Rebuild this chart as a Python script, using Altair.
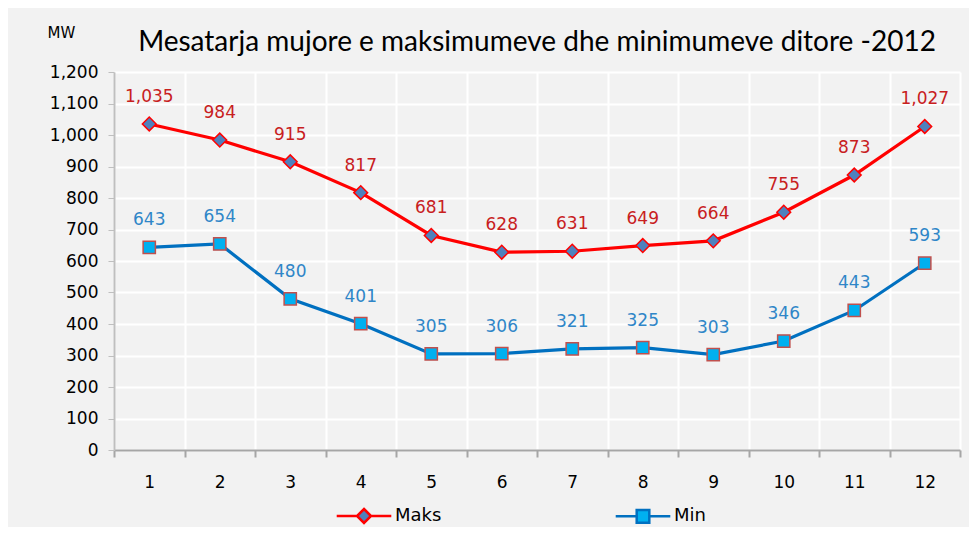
import altair as alt
import pandas as pd

months = [1, 2, 3, 4, 5, 6, 7, 8, 9, 10, 11, 12]
maks = [1035, 984, 915, 817, 681, 628, 631, 649, 664, 755, 873, 1027]
mins = [643, 654, 480, 401, 305, 306, 321, 325, 303, 346, 443, 593]
series_names = ["Maks", "Min"]
title_text = "Mesatarja mujore e maksimumeve dhe minimumeve ditore -2012"
y_unit = "MW"

rows = []
for m, v in zip(months, maks):
    rows.append({"month": m, "value": v, "series": "Maks"})
for m, v in zip(months, mins):
    rows.append({"month": m, "value": v, "series": "Min"})
df = pd.DataFrame(rows)

LINE_RED = "#ff0000"
LINE_BLUE = "#0070c0"
LABEL_RED = "#c8201e"
LABEL_BLUE = "#2f86c8"
FONT = "DejaVu Sans"

x_enc = alt.X(
    "month:O",
    scale=alt.Scale(type="band", paddingInner=0, paddingOuter=0),
    axis=alt.Axis(
        title=None,
        labelAngle=0,
        tickBand="extent",
        grid=True,
        gridColor="white",
        gridWidth=2,
        domainColor="#a6a6a6",
        domainWidth=2,
        tickColor="#a6a6a6",
        tickWidth=2,
        tickSize=7,
        labelPadding=17,
        labelFontSize=17,
        labelFont=FONT,
        labelColor="#000000",
    ),
)
y_enc = alt.Y(
    "value:Q",
    scale=alt.Scale(domain=[0, 1200], nice=False),
    axis=alt.Axis(
        title=y_unit,
        titleAngle=0,
        titleX=-53,
        titleY=-32,
        titleFont=FONT,
        titleFontSize=15,
        titleFontWeight="normal",
        titleColor="#000000",
        values=list(range(0, 1201, 100)),
        format=",d",
        grid=True,
        gridColor="white",
        gridWidth=2,
        domainColor="#bfbfbf",
        domainWidth=2,
        tickColor="#bfbfbf",
        tickSize=6,
        labelPadding=10,
        labelFontSize=17,
        labelFont=FONT,
        labelColor="#000000",
    ),
)

base = alt.Chart(df)

diamond_line = "M-3.9,0H-1M1,0H3.9M0,-1L1,0L0,1L-1,0Z"
square_line = "M-3.9,0H-0.9M0.9,0H3.9M-0.9,-0.9H0.9V0.9H-0.9Z"

leg = alt.Legend(
    title=None,
    orient="none",
    direction="horizontal",
    legendX=241,
    legendY=435,
)

stroke_scale = alt.Scale(domain=series_names, range=[LINE_RED, LINE_BLUE])

lines = base.mark_line(strokeWidth=3.2).encode(
    x=x_enc,
    y=y_enc,
    stroke=alt.Stroke("series:N", scale=stroke_scale, legend=leg),
)

ghost = base.transform_filter("false").mark_point(
    filled=True, opacity=1, strokeWidth=2.5
).encode(
    x=x_enc,
    y=y_enc,
    stroke=alt.Stroke("series:N", scale=stroke_scale, legend=leg),
    shape=alt.Shape(
        "series:N",
        scale=alt.Scale(domain=series_names, range=[diamond_line, square_line]),
        legend=leg,
    ),
    fill=alt.Fill(
        "series:N",
        scale=alt.Scale(domain=series_names, range=["#4f81bd", "#00b0f0"]),
        legend=leg,
    ),
)

pts_max = base.transform_filter(alt.datum.series == "Maks").mark_point(
    shape="diamond", filled=True, fill="#4f81bd", stroke=LINE_RED, strokeWidth=1.5, size=190, opacity=1
).encode(x=x_enc, y=y_enc)

pts_min = base.transform_filter(alt.datum.series == "Min").mark_point(
    shape="square", filled=True, fill="#00b0f0", stroke="#c0504d", strokeWidth=1.5, size=150, opacity=1
).encode(x=x_enc, y=y_enc)

labels = base.mark_text(dy=-27, fontSize=17, font=FONT, baseline="middle").encode(
    x=x_enc,
    y=y_enc,
    text=alt.Text("value:Q", format=",d"),
    color=alt.Color(
        "series:N",
        scale=alt.Scale(domain=series_names, range=[LABEL_RED, LABEL_BLUE]),
        legend=None,
    ),
)

chart = (
    alt.layer(lines, ghost, pts_max, pts_min, labels)
    .properties(
        width=846,
        height=378,
        title=alt.TitleParams(
            title_text,
            font="Lato",
            fontSize=28,
            fontWeight="normal",
            color="#000000",
            anchor="middle",
            offset=14,
            dy=46,
        ),
        autosize=alt.AutoSizeParams(type="none"),
        padding={"left": 106, "top": 64, "right": 9, "bottom": 77},
        background="#f2f2f2",
    )
    .configure_view(stroke=None, fill="#f2f2f2")
    .configure_legend(
        symbolSize=196,
        symbolStrokeWidth=2.5,
        labelOffset=22,
        columnPadding=168,
        labelFont=FONT,
        labelFontSize=18,
        labelColor="#000000",
        symbolOpacity=1,
    )
)

chart.save("out.html", embed_options={"renderer": "svg", "actions": False})
